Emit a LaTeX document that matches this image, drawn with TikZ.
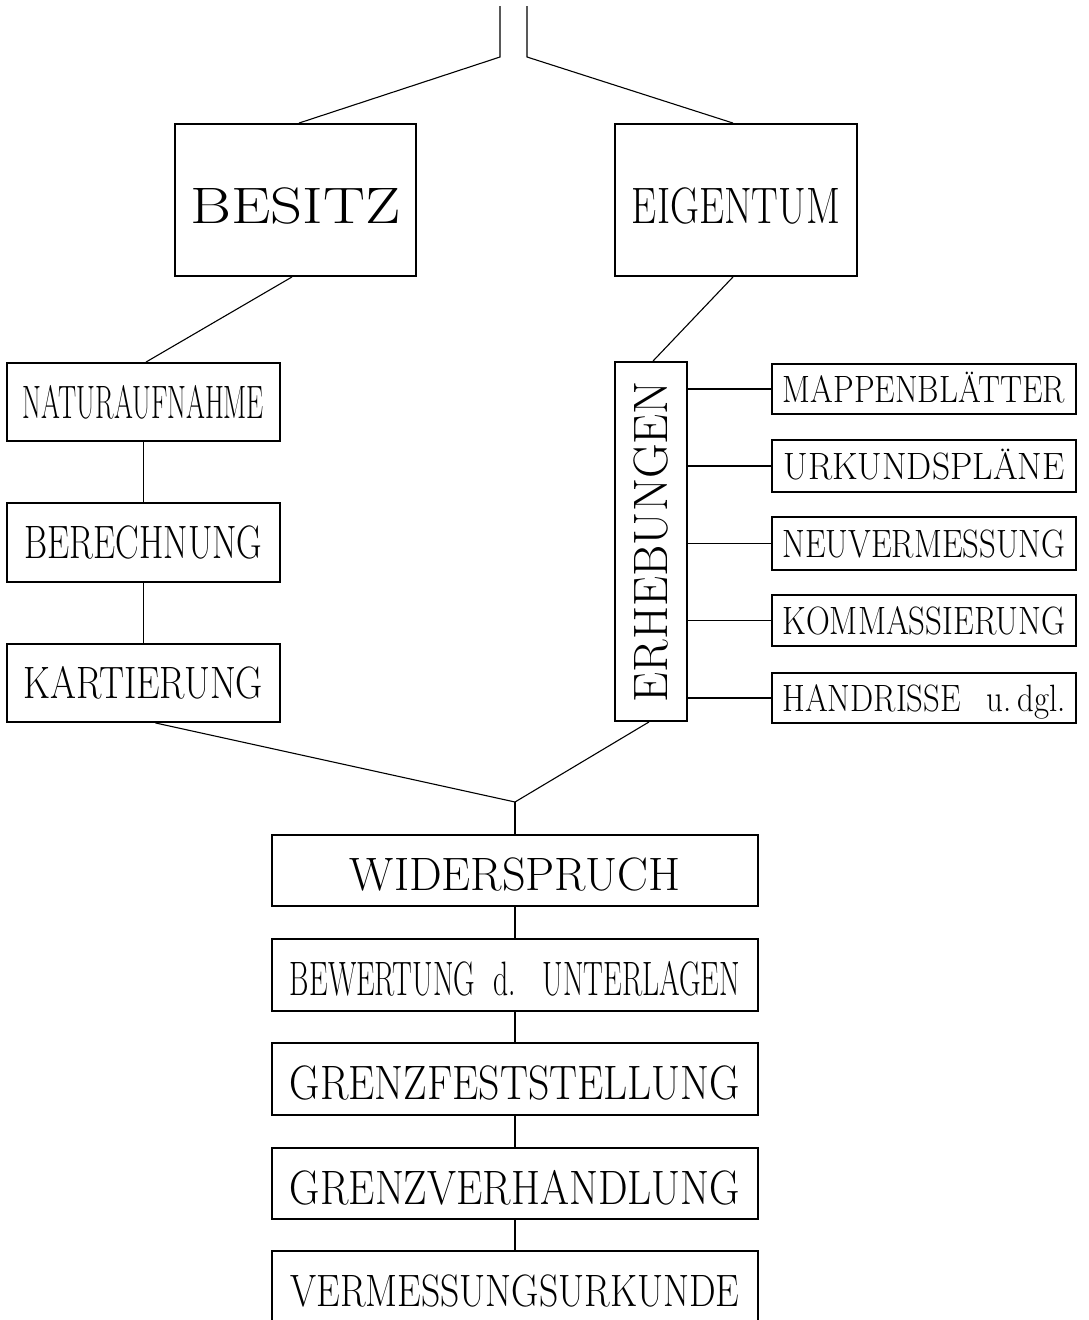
\documentclass[tikz,border=0pt]{standalone}
\usepackage{graphicx}
\newcommand\fitt[3]{\resizebox{#1}{#2}{\raisebox{0pt}[\fontcharht\font`H][0pt]{#3}}}
\tikzset{
  box/.style={draw, line width=1.9pt, inner sep=0pt, anchor=center, text depth=0pt,
    font=\fontsize{24}{28}\selectfont},
  conn/.style={line width=1.1pt},
}
\begin{document}
\begin{tikzpicture}[x=1pt,y=-1pt]
\useasboundingbox (0,0) rectangle (1088,1320);
% top
\coordinate (tl) at (500,6);
\coordinate (tlb) at (500,57);
\coordinate (tr) at (527,6);
\coordinate (trb) at (527,57);
% main boxes
\node[box, minimum width=241pt, minimum height=152pt, text height=46pt] (besitz) at (295.5,200) {\fitt{210pt}{35pt}{BESITZ}};
\node[box, minimum width=242pt, minimum height=152pt, text height=46pt] (eigentum) at (736,200) {\fitt{208pt}{35pt}{EIGENTUM}};
% left column
\node[box, minimum width=273pt, minimum height=78pt] (natur) at (143.5,402) {\fitt{241pt}{32pt}{NATURAUFNAHME}};
\node[box, minimum width=273pt, minimum height=79pt] (berech) at (143.5,542.5) {\fitt{238pt}{32pt}{BERECHNUNG}};
\node[box, minimum width=273pt, minimum height=78pt] (kart) at (143.5,683) {\fitt{239pt}{31pt}{KARTIERUNG}};
% right column
\node[box, minimum width=72pt, minimum height=359pt] (erheb) at (651,541.5) {\rotatebox{90}{\fitt{321pt}{33pt}{ERHEBUNGEN}}};
\node[box, minimum width=304pt, minimum height=50pt] (mappe) at (924,389) {\fitt{282pt}{26pt}{MAPPENBLÄTTER}};
\node[box, minimum width=304pt, minimum height=52pt] (urk) at (924,466) {\fitt{281pt}{26pt}{URKUNDSPLÄNE}};
\node[box, minimum width=304pt, minimum height=53pt] (neuv) at (924,543.5) {\fitt{283pt}{27pt}{NEUVERMESSUNG}};
\node[box, minimum width=304pt, minimum height=51pt] (komm) at (924,620.5) {\fitt{283pt}{27pt}{KOMMASSIERUNG}};
\node[box, minimum width=304pt, minimum height=50pt] (hand) at (924,698) {\fitt{283pt}{26pt}{HANDRISSE\hspace{0.8em}u.\,dgl.}};
% bottom chain
\coordinate (junc) at (515,802);
\node[box, minimum width=486pt, minimum height=71pt, text height=39pt] (wider) at (515,870.5) {\fitt{330pt}{32pt}{WIDERSPRUCH}};
\node[box, minimum width=486pt, minimum height=72pt, text height=40pt] (bew) at (515,975) {\fitt{450pt}{33pt}{BEWERTUNG\ \ d.\ \ \ UNTERLAGEN}};
\node[box, minimum width=486pt, minimum height=72pt, text height=41pt] (gfest) at (515,1079) {\fitt{450pt}{33pt}{GRENZFESTSTELLUNG}};
\node[box, minimum width=486pt, minimum height=71pt, text height=41pt] (gverh) at (515,1183.5) {\fitt{450pt}{33pt}{GRENZVERHANDLUNG}};
\node[box, minimum width=486pt, minimum height=72pt, text height=38pt] (verm) at (515,1287) {\fitt{449pt}{31pt}{VERMESSUNGSURKUNDE}};
% connectors
\draw[conn] (tl) -- (tlb) -- ([xshift=3.5pt]besitz.north);
\draw[conn] (tr) -- (trb) -- ([xshift=-3pt]eigentum.north);
\draw[conn] ([xshift=-3.5pt]besitz.south) -- ([xshift=2.5pt]natur.north);
\draw[conn] ([xshift=-3pt]eigentum.south) -- ([xshift=2pt]erheb.north);
\draw[conn] (natur.south) -- (berech.north);
\draw[conn] (berech.south) -- (kart.north);
\draw[conn] ([xshift=12pt]kart.south) -- (junc);
\draw[conn] ([xshift=-2pt]erheb.south) -- (junc);
\draw[conn] (junc) -- (wider.north);
\foreach \n in {mappe,urk,neuv,komm,hand}
  \draw[conn] (erheb.east |- \n.west) -- (\n.west);
\draw[conn] (wider.south) -- (bew.north);
\draw[conn] (bew.south) -- (gfest.north);
\draw[conn] (gfest.south) -- (gverh.north);
\draw[conn] (gverh.south) -- (verm.north);
\end{tikzpicture}
\end{document}
